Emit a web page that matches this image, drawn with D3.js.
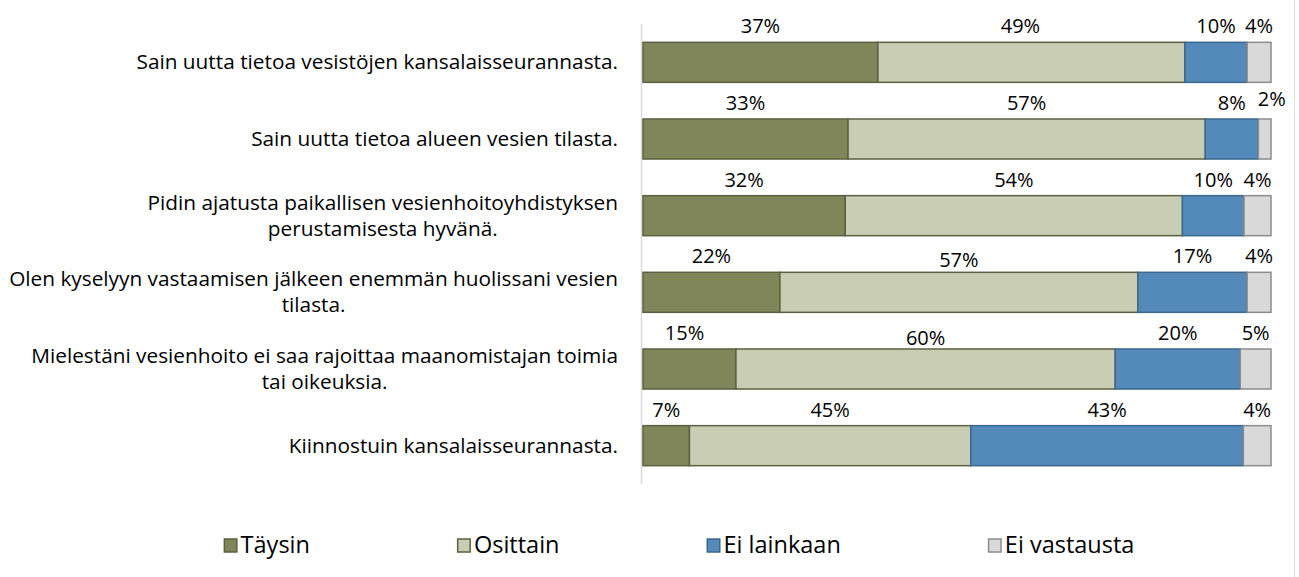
<!DOCTYPE html>
<html lang="fi">
<head>
<meta charset="UTF-8">
<script src="https://d3js.org/d3.v7.min.js"></script>
<title>Kysely</title>
<style>
  body { margin: 0; background: #fff; }
  svg text { font-family: "Open Sans", Lato, sans-serif; fill: #000; }
</style>
</head>
<body>
<script>
// kysymykset (kaksiriviset rivitetty valmiiksi)
var questions = [
  ["Sain uutta tietoa vesistöjen kansalaisseurannasta."],
  ["Sain uutta tietoa alueen vesien tilasta."],
  ["Pidin ajatusta paikallisen vesienhoitoyhdistyksen", "perustamisesta hyvänä."],
  ["Olen kyselyyn vastaamisen jälkeen enemmän huolissani vesien", "tilasta."],
  ["Mielestäni vesienhoito ei saa rajoittaa maanomistajan toimia", "tai oikeuksia."],
  ["Kiinnostuin kansalaisseurannasta."]
];
var series = ["Täysin", "Osittain", "Ei lainkaan", "Ei vastausta"];
// prosentit (%), luettu kuvasta
var taysin      = [37.4, 32.6, 32.2, 21.8, 14.8, 7.4];
var osittain    = [48.9, 56.8, 53.7, 57.0, 60.4, 44.8];
var eiLainkaan  = [9.9, 8.45, 9.8, 17.4, 19.9, 43.4];
var eiVastausta = [3.8, 2.0, 4.3, 3.8, 4.9, 4.4];

var fills   = ["#80865a", "#c9cdb4", "#548ab9", "#d9d9d9"];
var strokes = ["#5b6040", "#5b6040", "#3b6790", "#8c8c8c"];

// pieniä siirtoja päällekkäisille otsikoille (rivi-sarja: [dx, dy])
var nudge = {"0-1": [-11, 0], "1-3": [7, -4], "3-1": [0, 4], "4-0": [-5, 0], "4-1": [0, 5]};

var W = 1299, H = 577;
var svg = d3.select("body").append("svg").attr("width", W).attr("height", H);

var rows = questions.map(function(q, i) {
  return {q: q, i: i, vals: [taysin[i], osittain[i], eiLainkaan[i], eiVastausta[i]]};
});
var x = d3.scaleLinear().domain([0, 100]).range([643, 1271]);
var y = d3.scaleBand().domain(d3.range(rows.length)).range([24, 484])
  .paddingInner(0.478).paddingOuter(0.239);

// oikea reunaviiva
svg.append("line").attr("x1", 1294.5).attr("x2", 1294.5).attr("y1", 0).attr("y2", H)
  .attr("stroke", "#d9d9d9").attr("stroke-width", 1);

// pystyakseli
svg.append("line").attr("x1", 641.5).attr("x2", 641.5).attr("y1", 24).attr("y2", 484)
  .attr("stroke", "#d9d9d9").attr("stroke-width", 1.5);

var g = svg.selectAll("g.row").data(rows).enter().append("g").attr("class", "row");

g.each(function(r) {
  var sel = d3.select(this);
  var total = d3.sum(r.vals);
  var acc = 0;
  var segs = r.vals.map(function(v, k) {
    var s = {k: k, v: v, x0: acc / total * 100, x1: (acc + v) / total * 100};
    acc += v;
    return s;
  });
  sel.selectAll("rect").data(segs).enter().append("rect")
    .attr("x", function(d) { return x(d.x0); })
    .attr("y", y(r.i))
    .attr("width", function(d) { return x(d.x1) - x(d.x0); })
    .attr("height", y.bandwidth())
    .attr("fill", function(d) { return fills[d.k]; })
    .attr("stroke", function(d) { return strokes[d.k]; })
    .attr("stroke-width", 1.5);
  sel.selectAll("text.val").data(segs).enter().append("text").attr("class", "val")
    .attr("x", function(d) { var n = nudge[r.i + "-" + d.k]; return (x(d.x0) + x(d.x1)) / 2 + (n ? n[0] : 0); })
    .attr("y", function(d) { var n = nudge[r.i + "-" + d.k]; return y(r.i) - 9 + (n ? n[1] : 0); })
    .attr("text-anchor", "middle")
    .style("font-size", "20px")
    .text(function(d) { return Math.round(d.v) + "%"; });

  // kategoriateksti: rivit keskitetään keskenään, lohko oikealle
  var lab = sel.append("text").style("font-size", "20.8px");
  var lh = 26;
  var cy = y(r.i) + y.bandwidth() / 2;
  r.q.forEach(function(line, j) {
    lab.append("tspan").attr("x", 618).attr("y", cy + 7 + (j - (r.q.length - 1) / 2) * lh).text(line);
  });
  var widths = [];
  lab.selectAll("tspan").each(function() { widths.push(this.getComputedTextLength()); });
  var maxW = d3.max(widths);
  lab.selectAll("tspan").attr("text-anchor", "middle").attr("x", 618 - maxW / 2);
});

// selite
var leg = svg.append("g");
var lx = 0, gap = 147;
series.forEach(function(s, k) {
  var it = leg.append("g");
  it.append("rect").attr("x", 0.75).attr("y", -6.5).attr("width", 12.5).attr("height", 13)
    .attr("fill", fills[k]).attr("stroke", strokes[k]).attr("stroke-width", 1.5);
  var t = it.append("text").attr("x", 17).attr("y", 7.5).style("font-size", "23.5px").text(s);
  var w = 17 + t.node().getComputedTextLength();
  it.attr("transform", "translate(" + lx + ",0)");
  lx += w + gap;
});
var legW = lx - gap;
leg.attr("transform", "translate(" + (679 - legW / 2) + ",545.5)");
</script>
</body>
</html>
